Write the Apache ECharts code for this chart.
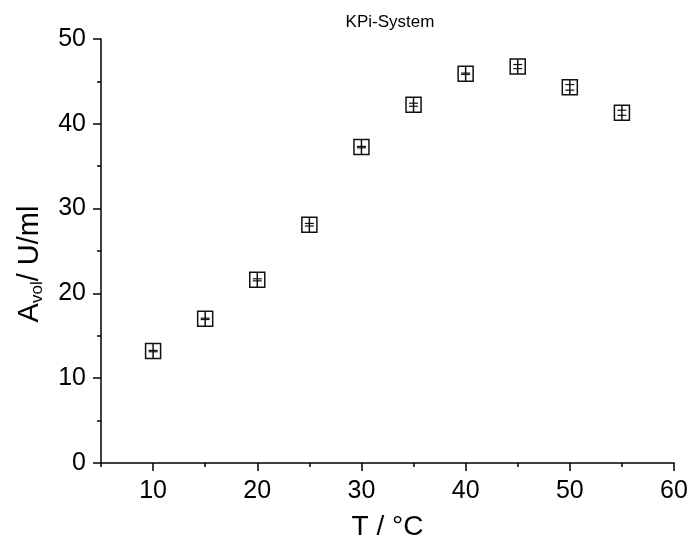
<!DOCTYPE html>
<html>
<head>
<meta charset="utf-8">
<script src="https://cdn.jsdelivr.net/npm/echarts@6/dist/echarts.min.js"></script>
<style>
html,body{margin:0;padding:0;background:#fff;}
#chart{width:692px;height:547px;}
</style>
</head>
<body>
<div id="chart"></div>
<script>
// temperature / activity data
const temps = [10, 15, 20, 25, 30, 35, 40, 45, 50, 55];
const activity = [13.2, 17.0, 21.6, 28.1, 37.25, 42.25, 45.9, 46.75, 44.3, 41.3];
const errors = [0.08, 0.08, 0.12, 0.15, 0.08, 0.18, 0.08, 0.24, 0.33, 0.3];

const xMajor = [10, 20, 30, 40, 50, 60];
const xMinor = [5, 15, 25, 35, 45, 55];

const FONT = "Liberation Sans, Arial, sans-serif";

const chart = echarts.init(document.getElementById("chart"));

const points = temps.map((t, i) => [t, activity[i], errors[i]]);

function renderMarker(params, api) {
    const c = api.coord([api.value(0), api.value(1)]);
    const top = api.coord([api.value(0), api.value(1) + api.value(2)]);
    const bot = api.coord([api.value(0), api.value(1) - api.value(2)]);
    const h = 7.5;
    const cap = 4.5;
    const st = {stroke: "#111", lineWidth: 1.5, fill: null};
    return {
        type: "group",
        children: [
            {type: "rect", shape: {x: c[0] - h, y: c[1] - h, width: 2 * h, height: 2 * h}, style: st},
            {type: "line", shape: {x1: c[0], y1: c[1] - h, x2: c[0], y2: c[1] + h}, style: st},
            {type: "line", shape: {x1: c[0] - cap, y1: top[1], x2: c[0] + cap, y2: top[1]}, style: {stroke: "#111", lineWidth: 1.2}},
            {type: "line", shape: {x1: c[0] - cap, y1: bot[1], x2: c[0] + cap, y2: bot[1]}, style: {stroke: "#111", lineWidth: 1.2}}
        ]
    };
}

chart.setOption({
    animation: false,
    backgroundColor: "#fff",
    title: {
        text: "KPi-System",
        left: 385,
        top: 9,
        textAlign: "center",
        textStyle: {fontFamily: FONT, fontSize: 17, fontWeight: "normal", color: "#000"}
    },
    grid: {left: 101, right: 18, top: 39, bottom: 84},
    xAxis: [
        {
            type: "value",
            min: 5,
            max: 60,
            name: "T / °C",
            nameLocation: "middle",
            nameGap: 50,
            nameTextStyle: {fontFamily: FONT, fontSize: 28, color: "#000"},
            splitLine: {show: false},
            axisLine: {lineStyle: {color: "#000", width: 1.5}},
            axisTick: {customValues: xMajor, length: 8, lineStyle: {color: "#000", width: 1.5}},
            axisLabel: {customValues: xMajor, fontFamily: FONT, fontSize: 25, color: "#000", margin: 16}
        },
        {
            type: "value",
            min: 5,
            max: 60,
            position: "bottom",
            splitLine: {show: false},
            axisLine: {show: false},
            axisTick: {customValues: xMinor, length: 4, lineStyle: {color: "#000", width: 1.5}},
            axisLabel: {show: false}
        }
    ],
    yAxis: {
        type: "value",
        min: 0,
        max: 50,
        interval: 10,
        name: "{a|A}{s|vol}{a|/ U/ml}",
        nameLocation: "middle",
        nameGap: 55,
        nameTextStyle: {
            fontFamily: FONT,
            color: "#000",
            padding: [0, 26, 0, 0],
            rich: {
                a: {fontFamily: FONT, fontSize: 29, color: "#000", lineHeight: 32},
                s: {fontFamily: FONT, fontSize: 17, color: "#000", lineHeight: 32, verticalAlign: "bottom", padding: [10, 0, 0, 0]}
            }
        },
        splitLine: {show: false},
        axisLine: {show: true, lineStyle: {color: "#000", width: 1.5}},
        axisTick: {show: true, length: 8, lineStyle: {color: "#000", width: 1.5}},
        minorTick: {show: true, splitNumber: 2, length: 4, lineStyle: {color: "#000", width: 1.5}},
        axisLabel: {fontFamily: FONT, fontSize: 25, color: "#000", margin: 15}
    },
    series: [{
        type: "custom",
        renderItem: renderMarker,
        data: points,
        encode: {x: 0, y: 1}
    }]
});
</script>
</body>
</html>
